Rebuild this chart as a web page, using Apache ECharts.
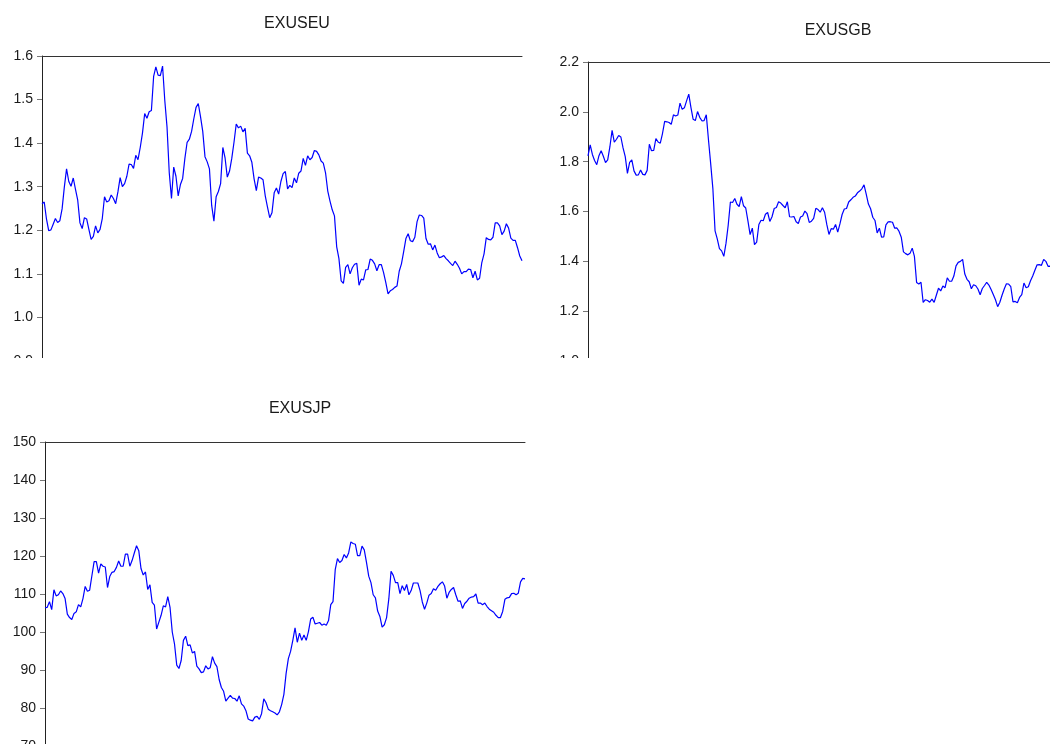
<!DOCTYPE html>
<html>
<head>
<meta charset="utf-8">
<script src="https://cdn.jsdelivr.net/npm/echarts@6/dist/echarts.min.js"></script>
<style>
  html, body { margin: 0; padding: 0; background: #fff; }
  #page { position: relative; width: 1050px; height: 744px; overflow: hidden; }
  .clip { position: absolute; overflow: hidden; }
</style>
</head>
<body>
<div id="page">
  <div class="clip" style="left:0;top:0;width:545px;height:358px"><div id="eu" style="width:545px;height:420px"></div></div>
  <div class="clip" style="left:530px;top:0;width:520px;height:358px"><div id="gb" style="width:560px;height:420px"></div></div>
  <div class="clip" style="left:0;top:390px;width:545px;height:354px"><div id="jp" style="width:545px;height:400px"></div></div>
</div>
<script>
// monthly, 2004M01 - 2021M12
const months = [];
for (let y = 2004; y <= 2021; y++) {
  for (let m = 1; m <= 12; m++) months.push(y + 'M' + (m < 10 ? '0' : '') + m);
}

const exuseu = [
  1.261, 1.265, 1.226, 1.199, 1.201, 1.214, 1.227, 1.218, 1.222, 1.249, 1.299, 1.341,
  1.312, 1.301, 1.320, 1.294, 1.269, 1.217, 1.204, 1.229, 1.226, 1.202, 1.179, 1.186,
  1.210, 1.194, 1.202, 1.227, 1.277, 1.265, 1.268, 1.281, 1.273, 1.261, 1.288, 1.321,
  1.300, 1.307, 1.324, 1.352, 1.351, 1.342, 1.372, 1.362, 1.390, 1.423, 1.468, 1.457,
  1.472, 1.475, 1.553, 1.575, 1.556, 1.555, 1.577, 1.498, 1.437, 1.332, 1.273, 1.345,
  1.324, 1.279, 1.305, 1.319, 1.365, 1.402, 1.409, 1.427, 1.456, 1.482, 1.491, 1.461,
  1.427, 1.369, 1.357, 1.341, 1.257, 1.221, 1.277, 1.289, 1.307, 1.390, 1.366, 1.322,
  1.336, 1.365, 1.402, 1.444, 1.435, 1.439, 1.426, 1.434, 1.377, 1.371, 1.356, 1.318,
  1.291, 1.322, 1.320, 1.316, 1.279, 1.253, 1.229, 1.240, 1.286, 1.297, 1.283, 1.312,
  1.330, 1.335, 1.295, 1.303, 1.298, 1.320, 1.309, 1.331, 1.336, 1.365, 1.349, 1.371,
  1.362, 1.367, 1.383, 1.381, 1.373, 1.359, 1.354, 1.332, 1.290, 1.267, 1.247, 1.233,
  1.162, 1.135, 1.084, 1.078, 1.115, 1.121, 1.100, 1.114, 1.122, 1.124, 1.074, 1.088,
  1.086, 1.109, 1.110, 1.134, 1.131, 1.123, 1.107, 1.121, 1.121, 1.103, 1.080, 1.054,
  1.061, 1.064, 1.069, 1.072, 1.106, 1.123, 1.151, 1.181, 1.192, 1.176, 1.174, 1.184,
  1.220, 1.235, 1.234, 1.228, 1.181, 1.168, 1.169, 1.155, 1.166, 1.148, 1.137, 1.139,
  1.142, 1.135, 1.130, 1.124, 1.119, 1.129, 1.122, 1.113, 1.100, 1.105, 1.105, 1.111,
  1.110, 1.091, 1.106, 1.086, 1.090, 1.126, 1.146, 1.183, 1.179, 1.178, 1.184, 1.217,
  1.217, 1.210, 1.190, 1.198, 1.215, 1.205, 1.182, 1.177, 1.177, 1.160, 1.141, 1.130
];

const exusgb = [
  1.823, 1.867, 1.829, 1.805, 1.788, 1.824, 1.844, 1.822, 1.796, 1.807, 1.860, 1.926,
  1.878, 1.890, 1.905, 1.899, 1.855, 1.820, 1.753, 1.797, 1.807, 1.763, 1.746, 1.747,
  1.767, 1.749, 1.747, 1.765, 1.870, 1.844, 1.845, 1.893, 1.879, 1.874, 1.913, 1.962,
  1.960, 1.957, 1.950, 1.988, 1.983, 1.987, 2.035, 2.010, 2.016, 2.044, 2.071, 2.017,
  1.970, 1.965, 2.001, 1.978, 1.964, 1.965, 1.988, 1.887, 1.792, 1.692, 1.522, 1.490,
  1.451, 1.442, 1.420, 1.473, 1.545, 1.638, 1.636, 1.652, 1.629, 1.620, 1.660, 1.623,
  1.614, 1.562, 1.507, 1.533, 1.467, 1.477, 1.548, 1.565, 1.563, 1.589, 1.596, 1.560,
  1.579, 1.612, 1.616, 1.639, 1.634, 1.624, 1.615, 1.639, 1.579, 1.578, 1.580, 1.559,
  1.552, 1.578, 1.582, 1.602, 1.591, 1.556, 1.561, 1.572, 1.613, 1.608, 1.597, 1.615,
  1.597, 1.548, 1.508, 1.531, 1.529, 1.548, 1.517, 1.550, 1.588, 1.610, 1.612, 1.638,
  1.647, 1.657, 1.662, 1.675, 1.682, 1.691, 1.707, 1.670, 1.630, 1.611, 1.577, 1.564,
  1.514, 1.533, 1.497, 1.498, 1.546, 1.558, 1.559, 1.557, 1.533, 1.534, 1.520, 1.497,
  1.438, 1.431, 1.426, 1.432, 1.453, 1.420, 1.315, 1.309, 1.316, 1.235, 1.246, 1.243,
  1.236, 1.248, 1.235, 1.264, 1.292, 1.281, 1.301, 1.294, 1.334, 1.320, 1.320, 1.341,
  1.382, 1.396, 1.400, 1.408, 1.349, 1.328, 1.318, 1.290, 1.306, 1.302, 1.289, 1.266,
  1.291, 1.303, 1.316, 1.305, 1.287, 1.267, 1.246, 1.218, 1.236, 1.264, 1.289, 1.310,
  1.309, 1.298, 1.237, 1.239, 1.234, 1.255, 1.266, 1.313, 1.294, 1.298, 1.322, 1.341,
  1.364, 1.386, 1.387, 1.384, 1.408, 1.400, 1.380, 1.381, 1.370, 1.370, 1.348, 1.328
];

const exusjp = [
  106.4, 106.5, 108.0, 105.9, 111.1, 109.5, 109.8, 110.8, 110.1, 108.8, 104.7, 103.8,
  103.3, 104.9, 105.3, 107.2, 106.6, 108.8, 112.0, 110.7, 111.0, 114.8, 118.5, 118.5,
  115.5, 117.9, 117.3, 117.1, 111.7, 114.6, 115.7, 115.9, 117.0, 118.7, 117.3, 117.3,
  120.5, 120.5, 117.3, 118.8, 120.8, 122.7, 121.4, 116.7, 115.0, 115.8, 111.2, 112.4,
  107.8, 107.1, 100.8, 102.6, 104.4, 106.9, 106.6, 109.3, 106.5, 100.0, 96.9, 91.3,
  90.4, 92.5, 97.8, 98.9, 96.4, 96.6, 94.5, 94.9, 91.0, 90.3, 89.3, 89.5,
  91.1, 90.3, 90.6, 93.5, 91.8, 90.9, 87.5, 85.4, 84.4, 81.8, 82.6, 83.3,
  82.6, 82.5, 81.8, 83.2, 81.1, 80.5, 79.3, 77.1, 76.8, 76.6, 77.6, 77.8,
  77.0, 78.5, 82.4, 81.4, 79.7, 79.3, 79.0, 78.7, 78.2, 79.0, 80.9, 83.6,
  89.1, 93.0, 94.9, 97.8, 101.1, 97.3, 99.7, 97.8, 99.2, 97.8, 100.1, 103.4,
  103.9, 102.1, 102.3, 102.5, 101.8, 102.1, 101.8, 103.0, 107.2, 108.0, 116.4, 119.3,
  118.3, 118.8, 120.4, 119.5, 120.8, 123.7, 123.3, 123.1, 120.1, 120.1, 122.6, 121.6,
  118.3, 114.7, 113.0, 109.8, 109.0, 105.5, 104.1, 101.3, 101.9, 103.8, 108.7, 116.0,
  114.9, 113.0, 113.0, 110.1, 112.2, 110.9, 112.5, 109.8, 110.9, 112.9, 112.9, 112.9,
  110.9, 107.9, 106.0, 107.6, 109.7, 110.1, 111.4, 111.0, 112.0, 112.7, 113.2, 112.1,
  108.9, 110.4, 111.2, 111.7, 109.8, 108.1, 108.2, 106.2, 107.5, 108.1, 108.9, 109.2,
  109.3, 110.0, 107.6, 107.6, 107.2, 107.6, 106.7, 106.0, 105.6, 105.2, 104.4, 103.8,
  103.8, 105.4, 108.6, 109.0, 109.1, 110.1, 110.2, 109.8, 110.2, 113.2, 114.1, 114.0
];

const font = 'Arial, "Liberation Sans", sans-serif';

function panel(id, name, titleX, titleTop, grid, yMin, yMax, step, digits, values) {
  const chart = echarts.init(document.getElementById(id));
  chart.setOption({
    animation: false,
    title: {
      text: name,
      left: titleX,
      top: titleTop,
      textAlign: 'center',
      textStyle: { fontFamily: font, fontSize: 16, fontWeight: 'normal', color: '#1a1a1a' }
    },
    grid: grid,
    xAxis: {
      type: 'category',
      data: months,
      position: 'top',
      boundaryGap: false,
      axisLine: { onZero: false, lineStyle: { color: '#333', width: 1 } },
      axisTick: { show: false },
      axisLabel: { show: false },
      splitLine: { show: false }
    },
    yAxis: {
      type: 'value',
      min: yMin,
      max: yMax,
      interval: step,
      axisLine: { show: true, lineStyle: { color: '#222', width: 1 } },
      axisTick: { show: true, inside: false, length: 5, lineStyle: { color: '#777' } },
      axisLabel: {
        margin: 9,
        fontFamily: font,
        fontSize: 14,
        color: '#1a1a1a',
        formatter: v => v.toFixed(digits)
      },
      splitLine: { show: false }
    },
    series: [{
      type: 'line',
      data: values,
      showSymbol: false,
      lineStyle: { color: '#0000ff', width: 1.2 }
    }]
  });
}

panel('eu', 'EXUSEU', 292, 11, { left: 42, top: 56, width: 480, height: 305 }, 0.9, 1.6, 0.1, 1, exuseu);
panel('gb', 'EXUSGB', 303, 18, { left: 58, top: 62, width: 471, height: 299 }, 1.0, 2.2, 0.2, 1, exusgb);
panel('jp', 'EXUSJP', 295, 6, { left: 45, top: 52, width: 480, height: 304 }, 70, 150, 10, 0, exusjp);
</script>
</body>
</html>
